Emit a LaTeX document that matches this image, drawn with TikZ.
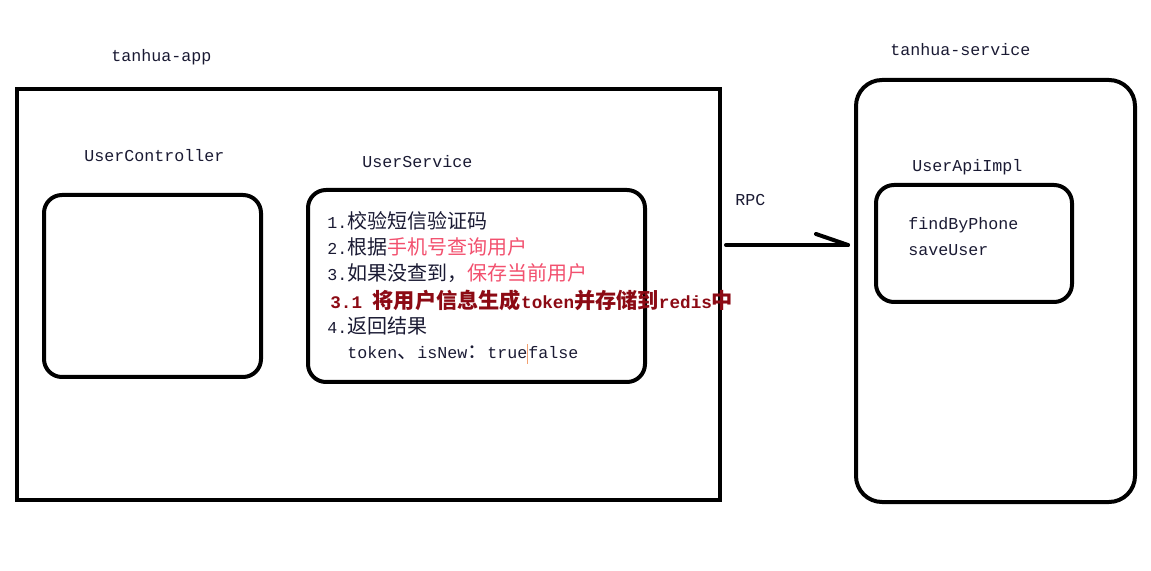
\documentclass[tikz,border=0pt]{standalone}
\usepackage{fontspec}
\setmainfont[Scale=0.833]{Liberation Mono}
\newfontfamily\cjk{Noto Sans CJK SC}
\usetikzlibrary{fit}
\definecolor{txt}{HTML}{1A1A33}
\definecolor{hong}{HTML}{F2506E}
\definecolor{anhong}{HTML}{8C0A14}
\definecolor{cursor}{HTML}{F2A070}
\newcommand{\zh}[1]{{\cjk #1}}

\begin{document}
\begin{tikzpicture}[x=0.5pt, y=-0.5pt,
        bx/.style={draw, line width=2pt, inner sep=0pt},
        rbx/.style={bx, rounded corners=9pt},
        lb/.style={anchor=west, inner sep=0pt, text=txt, font=\fontsize{10}{12}\selectfont,
            text height=7pt, text depth=2pt},
        ln/.style={line width=2pt, line cap=round}]
    \useasboundingbox (0,0) rectangle (1151,571);
    % tanhua-app
    \node[bx, fit={(17,89) (720,500)}] (app) {};
    \node[lb] (appname) at (111,57) {tanhua-app};
    \node[rbx, fit={(44,195) (261,377)}] (ctrl) {};
    \node[lb] (ctrlname) at (84,157) {UserController};
    \node[rbx, fit={(308,190) (645,382)}] (svc) {};
    \node[lb] (svcname) at (362,163) {UserService};
    \node[lb] (s1) at (327,224) {1.\zh{校验短信验证码}};
    \node[lb] (s2) at (327,250) {2.\zh{根据}\textcolor{hong}{\zh{手机号查询用户}}};
    \node[lb] (s3) at (327,276) {3.\zh{如果没查到，}\textcolor{hong}{\zh{保存当前用户}}};
    \node[lb, text=anhong, font=\fontsize{10.6}{12}\selectfont\bfseries] (s31) at (330,304)
        {3.1 \zh{将用户信息生成}token\zh{并存储到}redis\zh{中}};
    \node[lb] (s4) at (327,329) {4.\zh{返回结果}};
    \node[lb] (s5) at (347,354)
        {token\zh{、}isNew\zh{：}true\textcolor{cursor}{\rule[-2.5pt]{0.5pt}{10pt}}false};
    % RPC
    \node[lb] (rpc) at (735,201) {RPC};
    \coordinate (rpcA) at (726,245);
    \coordinate (rpcB) at (848,245);
    \coordinate (rpcC) at (816,234);
    \draw[ln] (rpcA) -- (rpcB);
    \draw[ln] (rpcC) -- (rpcB);
    % tanhua-service
    \node[bx, rounded corners=13pt, fit={(856,80) (1135,502)}] (srv) {};
    \node[lb] (srvname) at (890,51) {tanhua-service};
    \node[rbx, fit={(876,185) (1072,302)}] (api) {};
    \node[lb] (apiname) at (912,167) {UserApiImpl};
    \node[lb] (a1) at (908,225) {findByPhone};
    \node[lb] (a2) at (908,251) {saveUser};
\end{tikzpicture}
\end{document}
